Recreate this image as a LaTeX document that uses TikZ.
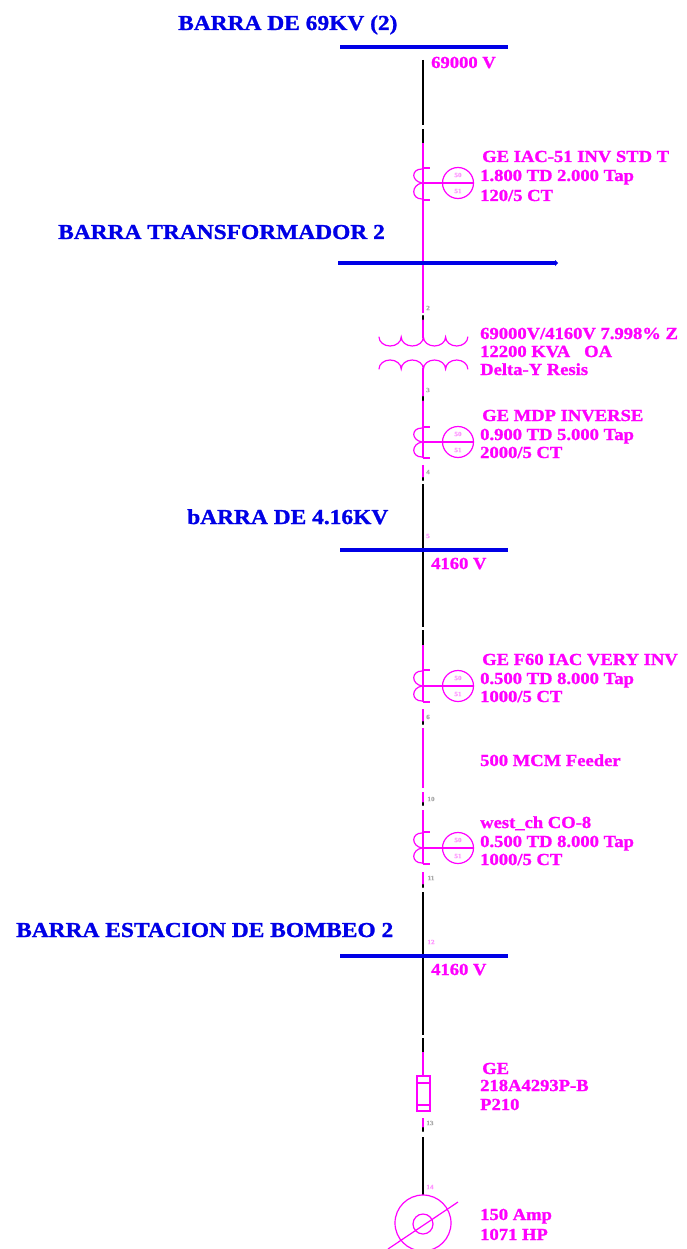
\documentclass[tikz,border=0pt]{standalone}
\usepackage{fontspec}
\setmainfont[FakeStretch=1.1,BoldFeatures={FakeBold=1.2}]{Liberation Serif}
\definecolor{mag}{RGB}{255,0,255}
\definecolor{blu}{RGB}{0,0,230}
\definecolor{tinygray}{RGB}{170,170,170}
\definecolor{tinypink}{RGB}{255,150,255}
\tikzset{
 busbar/.style={draw=blu,line width=4.5pt},
 magline/.style={draw=mag,line width=1.4pt},
 blkline/.style={draw=black,line width=1.5pt},
 blkdot/.style={draw=black,line width=2.4pt,line cap=round},
 thin mag/.style={draw=mag,line width=1.2pt},
 bustext/.style={text=blu,font=\fontsize{21.3}{22}\selectfont\bfseries,anchor=base west,inner sep=0pt,yshift=-1pt},
 devtext/.style={text=mag,font=\fontsize{16.9}{17}\selectfont\bfseries,anchor=base west,inner sep=0pt,yshift=-1pt},
 tinylab/.style={text=tinygray,font=\fontsize{6.5}{6.5}\selectfont\bfseries,inner sep=0pt},
 tinyrel/.style={text=tinypink,font=\fontsize{6.5}{6.5}\selectfont\bfseries,inner sep=0pt},
 relaycircle/.style={circle,draw=mag,line width=1.2pt,minimum size=31pt,inner sep=0pt},
}
\newcommand{\ctrelay}[4]{% name, center y, top y, bottom y
 \coordinate (#1t) at (423,#3);
 \coordinate (#1b) at (423,#4);
 \coordinate (#1c) at (423,#2);
 \node[relaycircle] (#1r) at (458,#2) {};
 \draw[thin mag] (#1c) -- (#1r.east);
 \draw[thin mag] (#1t) -- ++(7,0);
 \draw[thin mag] (#1b) -- ++(7,0);
 \draw[thin mag,line cap=round] (422,#3+1) .. controls (411,#3+1) and (411,#2-2) .. (422,#2);
 \draw[thin mag,line cap=round] (422,#4-1) .. controls (411,#4-1) and (411,#2+2) .. (422,#2);
 \node[tinyrel] at (458,#2-8) {50};
 \node[tinyrel] at (458,#2+8) {51};
}
\begin{document}
\begin{tikzpicture}[x=1pt,y=-1pt]
\useasboundingbox (0,0) rectangle (686,1249);
% buses
\coordinate (b1l) at (340,47); \coordinate (b1r) at (508,47);
\coordinate (b2l) at (338,263); \coordinate (b2r) at (555,263);
\coordinate (b3l) at (340,550); \coordinate (b3r) at (508,550);
\coordinate (b4l) at (340,956); \coordinate (b4r) at (508,956);
\coordinate (b1) at (423,47); \coordinate (b2) at (423,263);
\coordinate (b3) at (423,550); \coordinate (b4) at (423,956);
% relays
\ctrelay{a}{183}{168}{200}
\ctrelay{c}{442}{427}{458}
\ctrelay{d}{686}{670}{702}
\ctrelay{e}{848}{832}{864}
% vertical
\foreach \n/\y in {p1/60,p2/125,p3/129,p4/143,p5/313,p6/316,p7/319,p8/338,p9/368,p10/397,p11/400,p12/465,p13/478,p14/480,p15/484,
 q1/627,q2/630,q3/645,q4/709,q5/722,q6/724,q7/728,q8/788,q9/792,q10/803,q11/805,q12/810,q13/872,q14/885,q15/887,q16/892,
 r1/1035,r2/1038,r3/1052,r4/1076,r5/1111,r6/1118,r7/1128,r8/1131,r9/1137,r10/1195}
 \coordinate (\n) at (423,\y);
\draw[blkline] (p1) -- (p2) (p3) -- (p4);
\draw[magline] (p4) -- (at) (at) -- (ab) (ab) -- (b2) -- (p5);
\draw[magline] (p7) -- (p8);
\draw[magline] (p9) -- (p10);
\draw[magline] (p11) -- (cb);
\draw[magline] (p12) -- (p13);
\draw[blkline] (p15) -- (b3) -- (q1) (q2) -- (q3);
\draw[magline] (q3) -- (db) (q4) -- (q5);
\draw[magline] (q7) -- (q8) (q9) -- (q10);
\draw[magline] (q12) -- (eb) (q13) -- (q14);
\draw[blkline] (q16) -- (b4) -- (r1) (r2) -- (r3);
\draw[magline] (r3) -- (r4) (r6) -- (r7);
\draw[blkline] (r9) -- (r10);
\draw[blkdot] (p6) -- (p7) (p10) -- (p11) (p13) -- (p14) (q5) -- (q6) (q10) -- (q11) (q14) -- (q15) (r7) -- (r8);
% bars
\draw[busbar] (b1l) -- (b1r);
\draw[busbar] (b2l) -- (b2r);
\fill[blu] ([yshift=-3pt]b2r) -- ([xshift=3pt]b2r) -- ([yshift=3pt]b2r) -- cycle;
\draw[busbar] (b3l) -- (b3r);
\draw[busbar] (b4l) -- (b4r);
% transformer
\draw[thin mag,line cap=round]
 (379,337) arc[start angle=180,end angle=0,x radius=11.1,y radius=9]
 arc[start angle=180,end angle=0,x radius=11.1,y radius=9]
 arc[start angle=180,end angle=0,x radius=11.1,y radius=9]
 arc[start angle=180,end angle=0,x radius=11.1,y radius=9];
\draw[thin mag,line cap=round]
 (379,369) arc[start angle=180,end angle=360,x radius=11.1,y radius=9]
 arc[start angle=180,end angle=360,x radius=11.1,y radius=9]
 arc[start angle=180,end angle=360,x radius=11.1,y radius=9]
 arc[start angle=180,end angle=360,x radius=11.1,y radius=9];
% fuse
\node[draw=mag,line width=1.2pt,minimum width=13pt,minimum height=35pt,inner sep=0pt] (fuse) at (423.5,1093.5) {};
\draw[thin mag] (417,1083) -- (430,1083) (417,1105) -- (430,1105);
% motor
\node[circle,draw=mag,line width=1.2pt,minimum size=56pt,inner sep=0pt] (motor) at (423,1223) {};
\node[circle,draw=mag,line width=1.2pt,minimum size=20pt,inner sep=0pt] (motorin) at (423,1224) {};
\coordinate (mda) at (388,1249); \coordinate (mdb) at (458,1202);
\draw[thin mag] (mda) -- (mdb);
% bus labels
\node[bustext] (t1) at (178,29) {BARRA DE 69KV (2)};
\node[bustext] (t2) at (58,238) {BARRA TRANSFORMADOR 2};
\node[bustext] (t3) at (187,523) {bARRA DE 4.16KV};
\node[bustext] (t4) at (16,936) {BARRA ESTACION DE BOMBEO 2};
% device labels
\node[devtext] (v1) at (431,67) {69000 V};
\node[devtext] (a1) at (482,161) {GE IAC-51 INV STD T};
\node[devtext] (a2) at (480,180) {1.800 TD 2.000 Tap};
\node[devtext] (a3) at (480,200) {120/5 CT};
\node[devtext] (x1) at (480,338) {69000V/4160V 7.998\% Z};
\node[devtext] (x2) at (480,356) {12200 KVA~~~OA};
\node[devtext] (x3) at (480,374) {Delta-Y Resis};
\node[devtext] (c1) at (482,420) {GE MDP INVERSE};
\node[devtext] (c2) at (480,439) {0.900 TD 5.000 Tap};
\node[devtext] (c3) at (480,457) {2000/5 CT};
\node[devtext] (v3) at (431,568) {4160 V};
\node[devtext] (d1) at (482,664) {GE F60 IAC VERY INV};
\node[devtext] (d2) at (480,683) {0.500 TD 8.000 Tap};
\node[devtext] (d3) at (480,701) {1000/5 CT};
\node[devtext] (f1) at (480,765) {500 MCM Feeder};
\node[devtext] (e1) at (480,827) {west\_ch CO-8};
\node[devtext] (e2) at (480,846) {0.500 TD 8.000 Tap};
\node[devtext] (e3) at (480,864) {1000/5 CT};
\node[devtext] (v4) at (431,974) {4160 V};
\node[devtext] (g1) at (482,1073) {GE};
\node[devtext] (g2) at (480,1090) {218A4293P-B};
\node[devtext] (g3) at (480,1109) {P210};
\node[devtext] (m1) at (480,1219) {150 Amp};
\node[devtext] (m2) at (480,1239) {1071 HP};
% tiny
\node[tinylab] (n2) at (428,308) {2};
\node[tinylab] (n3) at (428,390) {3};
\node[tinylab] (n4) at (428,472) {4};
\node[tinyrel] (n5) at (428,536) {5};
\node[tinylab] (n6) at (428,717) {6};
\node[tinylab] (n7) at (431,799) {10};
\node[tinylab] (n8) at (431,878) {11};
\node[tinyrel] (n9) at (431,942) {12};
\node[tinylab] (n10) at (430,1123) {13};
\node[tinyrel] (n11) at (430,1187) {14};
\end{tikzpicture}
\end{document}
